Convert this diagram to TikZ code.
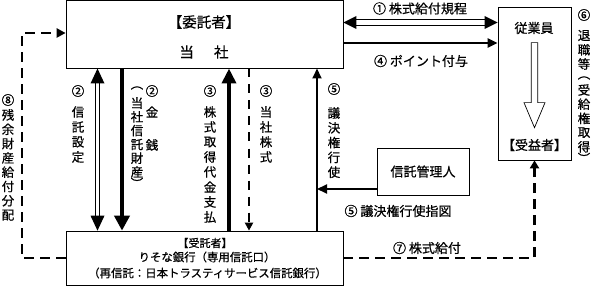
\documentclass[tikz,border=0pt]{standalone}
\usepackage{fontspec}
\setmainfont{Noto Sans CJK JP}[FakeBold=0.6]
\usetikzlibrary{arrows.meta,calc}
\newcommand\vcol[3]{\foreach \c/\yy [count=\k] in {#2}{\node[vch] (#3\k) at (#1,\yy) {\c};}}
\begin{document}
\begin{tikzpicture}[x=1pt,y=-1pt,
  box/.style={draw, line width=0.7pt, inner sep=0pt},
  lab/.style={font=\fontsize{13}{13}\selectfont, inner sep=0pt},
  vch/.style={font=\fontsize{12.5}{12.5}\selectfont, inner sep=0pt},
  dsh/.style={line width=2.5pt, dash pattern=on 10pt off 6pt},
]
\useasboundingbox (0,0) rectangle (594,286);

% boxes
\node[box, minimum width=277pt, minimum height=67.5pt] (top) at (204.5,34.4) {};
\node[box, minimum width=73pt, minimum height=153pt] (emp) at (534.5,83.5) {};
\node[box, minimum width=277pt, minimum height=54pt] (bot) at (204.5,258) {};
\node[box, minimum width=92pt, minimum height=47pt, font=\fontsize{13}{13}\selectfont] (mgr) at (423,171.5) {信託管理人};

% box texts
\node[font=\fontsize{14.5}{14.5}\selectfont, inner sep=0pt] (t1) at (204,22) {【委託者】};
\node[font=\fontsize{14.5}{14.5}\selectfont, inner sep=0pt] (t2) at (204,52) {当\hspace{20pt}社};
\node[lab] (t3) at (534,28) {従業員};
\node[lab] (t4) at (534.5,145) {【受益者】};
\node[font=\fontsize{11}{11}\selectfont, inner sep=0pt] (t5) at (205,243) {【受託者】};
\node[font=\fontsize{11.4}{11.4}\selectfont, inner sep=0pt] (t6) at (207,257) {りそな銀行（専用信託口）};
\node[font=\fontsize{11.4}{11.4}\selectfont, inner sep=0pt] (t7) at (207.5,273) {（再信託：日本トラスティサービス信託銀行）};

% helper coordinates
\coordinate (h1) at (0,22.5);
\coordinate (h4) at (0,43);
\coordinate (h8) at (0,33);
\coordinate (hb) at (0,258);
\coordinate (h5) at (0,189);
\coordinate (v2a) at (97.5,0);
\coordinate (v2b) at (122,0);
\coordinate (v3a) at (229,0);
\coordinate (v3b) at (249,0);
\coordinate (v5) at (317,0);
\coordinate (v8) at (22,0);

% (1) double arrow
\draw[line width=1.3pt, double distance=4.5pt, double=white, shorten <=12pt, shorten >=12pt]
  (top.east|-h1) -- (emp.west|-h1);
\fill (top.east|-h1) -- ++(13,-6.5) -- ++(0,13) -- cycle;
\fill (emp.west|-h1) -- ++(-13,-6.5) -- ++(0,13) -- cycle;

% (4)
\draw[line width=2.4pt, -{Triangle[length=10pt,width=9pt]}] (top.east|-h4) -- (emp.west|-h4);

% (8)
\draw[dsh, -{Triangle[length=9pt,width=9pt]}] (bot.west|-hb) -- (v8|-hb) -- (v8|-h8) -- (top.west|-h8);

% (7)
\draw[dsh, -{Triangle[length=8pt,width=9pt]}] (bot.east|-hb) -- (emp.south|-hb) -- (emp.south);

% (2) trust setting double arrow
\draw[line width=1.2pt, double distance=2.6pt, double=white, shorten <=14pt, shorten >=14pt]
  (v2a|-top.south) -- (v2a|-bot.north);
\fill (v2a|-top.south) -- ++(-7,15) -- ++(14,0) -- cycle;
\fill (v2a|-bot.north) -- ++(-7,-15) -- ++(14,0) -- cycle;

% (2) money
\draw[line width=4pt, -{Triangle[length=15pt,width=15pt]}] (v2b|-top.south) -- (v2b|-bot.north);
% (3) payment
\draw[line width=4.5pt, -{Triangle[length=15pt,width=14pt]}] (v3a|-bot.north) -- (v3a|-top.south);
% (3) shares
\draw[line width=2pt, dash pattern=on 9pt off 7pt, -{Triangle[length=8pt,width=8pt]}] (v3b|-top.south) -- (v3b|-bot.north);
% (5) voting
\draw[line width=2pt, -{Triangle[length=10pt,width=9pt]}] (v5|-bot.north) -- (v5|-top.south);
\draw[line width=2pt, -{Triangle[length=10pt,width=9pt]}] (mgr.west|-h5) -- (v5|-h5);

% hollow arrow in employee box
\draw[line width=0.7pt] ($(emp.north)+(-3.25,36)$) -- ($(emp.north)+(-3.25,96)$) -- ($(emp.north)+(-10.5,96)$)
  -- ($(emp.north)+(0,121)$) -- ($(emp.north)+(10.5,96)$) -- ($(emp.north)+(3.25,96)$) -- ($(emp.north)+(3.25,36)$) -- cycle;

% horizontal labels
\node[lab] (l1) at (420,8.5) {① 株式給付規程};
\node[lab] (l4) at (421,61) {④ ポイント付与};
\node[lab] (l5) at (398,211) {⑤ 議決権行使指図};
\node[lab] (l7) at (427,248) {⑦ 株式給付};

% vertical labels
\vcol{8}{⑧/100, 残/115, 余/129.3, 財/143.6, 産/157.9, 給/172.2, 付/186.5, 分/200.8, 配/215.1}{a}
\vcol{78}{②/91, 信/112, 託/127, 設/142, 定/157}{b}
\vcol{152}{②/91, 金/112, 銭/145}{c}
\vcol{137}{︵/88, 当/103, 社/116.8, 信/130.6, 託/144.4, 財/158.2, 産/172, ︶/183}{d}
\vcol{210}{③/91, 株/112, 式/127, 取/142, 得/157, 代/172, 金/187, 支/202, 払/217}{e}
\vcol{266}{③/91, 当/112, 社/127, 株/142, 式/157}{f}
\vcol{334}{⑤/89, 議/113, 決/127.8, 権/142.6, 行/157.4, 使/172.2}{g}
\vcol{584}{⑥/15, 退/35.5, 職/49.8, 等/64, ︵/78, 受/90, 給/104.2, 権/118.4, 取/132.6, 得/146.8, ︶/158}{h}
\end{tikzpicture}
\end{document}
